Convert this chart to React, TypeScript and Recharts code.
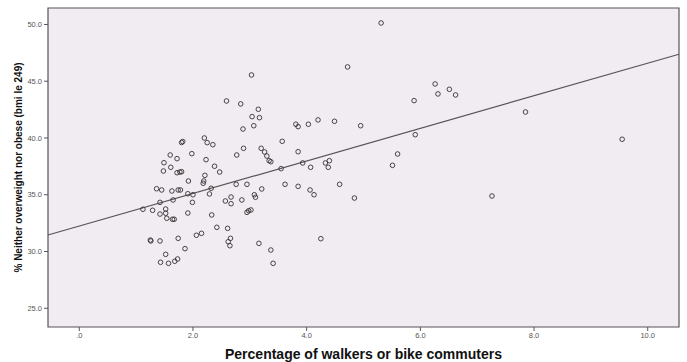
import React from 'react';
import {
  ScatterChart,
  Scatter,
  XAxis,
  YAxis,
  CartesianGrid,
  ReferenceLine,
  ReferenceArea,
} from 'recharts';

// % walkers or bike commuters (x) for each county
const walkersPct = [
  2.59, 2.84, 3.15, 3.04, 3.17, 3.07, 2.88, 3.81, 3.85, 1.82,
  1.80, 2.20, 2.25, 2.35, 2.89, 3.20, 3.26, 3.30, 3.34, 3.37,
  3.57, 3.85, 1.60, 1.98, 1.72, 2.77, 2.23, 1.49, 1.61, 2.38,
  1.48, 1.72, 1.77, 1.80, 2.47, 2.21, 3.55, 1.92, 2.19, 2.18,
  1.36, 1.45, 1.63, 1.74, 1.78, 2.32, 2.29, 2.76, 2.95, 3.21,
  3.62, 3.85, 1.91, 2.00, 1.42, 1.65, 1.99, 1.12, 1.29, 1.42,
  1.52, 1.52, 1.54, 1.64, 1.67, 1.91, 2.33, 2.57, 2.67, 2.67,
  2.86, 3.08, 3.10, 2.95, 2.98, 3.02, 1.26, 1.25, 1.42, 1.74,
  1.86, 2.06, 2.15, 2.42, 2.61, 2.66, 2.62, 2.65, 3.16, 3.37,
  3.41, 1.52, 1.43, 1.57, 1.68, 1.73, 3.03, 5.31, 4.72, 6.26,
  6.31, 6.51, 6.62, 5.89, 4.03, 4.20, 4.49, 4.95, 3.93, 4.07,
  4.33, 4.40, 4.38, 5.91, 5.60, 5.51, 7.26, 4.06, 4.13, 4.58,
  4.84, 4.25, 7.85, 9.55,
];

// % neither overweight nor obese (y), same order
const healthyPct = [
  43.26, 43.0, 42.53, 41.88, 41.79, 41.08, 40.79, 41.21, 41.0, 39.69,
  39.6, 40.0, 39.59, 39.41, 39.09, 39.09, 38.77, 38.41, 38.0, 37.91,
  39.71, 38.79, 38.5, 38.62, 38.18, 38.5, 38.09, 37.82, 37.42, 37.51,
  37.09, 36.94, 37.0, 37.03, 37.0, 36.71, 37.3, 36.21, 36.21, 36.01,
  35.53, 35.42, 35.33, 35.42, 35.42, 35.57, 35.07, 35.92, 35.92, 35.51,
  35.92, 35.74, 35.09, 35.0, 34.33, 34.54, 34.33, 33.72, 33.63, 33.3,
  33.74, 33.37, 32.93, 32.84, 32.84, 33.39, 33.22, 34.45, 34.8, 34.21,
  34.54, 35.0, 34.78, 33.45, 33.59, 33.66, 30.93, 31.01, 30.93, 31.16,
  30.25, 31.43, 31.6, 32.13, 32.04, 31.16, 30.86, 30.51, 30.72, 30.13,
  28.96, 29.75, 29.05, 28.96, 29.14, 29.34, 45.55, 50.13, 46.26, 44.76,
  43.88, 44.29, 43.79, 43.29, 41.21, 41.59, 41.47, 41.08, 37.8, 37.42,
  37.8, 38.0, 37.42, 40.29, 38.59, 37.59, 34.89, 35.42, 35.0, 35.92,
  34.71, 31.13, 42.29, 39.89,
];

// fit line end points, read at the frame edges
const fitX = [-0.55, 10.55];
const fitY = [31.45, 47.38];

const xTicks = [0, 2, 4, 6, 8, 10];
const yTicks = [25, 30, 35, 40, 45, 50];
const xDomain = [-0.55, 10.55];
const yDomain = [23.35, 51.45];

const points = walkersPct.map((x, i) => ({ x, y: healthyPct[i] }));

const fmtX = (v: number) => (v === 0 ? '.0' : v.toFixed(1));
const fmtY = (v: number) => v.toFixed(1);

const Dot = (p: any) => (
  <circle cx={p.cx} cy={p.cy} r={2.3} fill="none" stroke="#333" strokeWidth={0.9} />
);

export default function App() {
  return (
    <div
      style={{
        position: 'absolute',
        left: 0,
        top: 0,
        width: 687,
        height: 362,
        background: '#fff',
        fontFamily: '"Liberation Sans", Arial, sans-serif',
      }}
    >
      <ScatterChart width={687} height={362} margin={{ top: 8, right: 8, left: 0, bottom: 0 }}>
        <CartesianGrid fill="#F1ECF1" horizontal={false} vertical={false} />
        <XAxis
          type="number"
          dataKey="x"
          domain={xDomain}
          allowDataOverflow
          ticks={xTicks}
          tickFormatter={fmtX}
          axisLine={false}
          tickSize={4}
          tickLine={{ stroke: '#555' }}
          tick={{ fontSize: 7.5, fill: '#555' }}
          height={35}
          label={{
            value: 'Percentage of walkers or bike commuters',
            position: 'insideBottom',
            offset: 3,
            style: { fontSize: 14, fontWeight: 'bold', fill: '#111' },
          }}
        />
        <YAxis
          type="number"
          dataKey="y"
          domain={yDomain}
          allowDataOverflow
          ticks={yTicks}
          tickFormatter={fmtY}
          axisLine={false}
          tickSize={4}
          tickLine={{ stroke: '#555' }}
          tick={{ fontSize: 7.5, fill: '#555' }}
          width={48}
          label={{
            value: '% Neither overweight nor obese (bmi le 249)',
            angle: -90,
            position: 'insideLeft',
            offset: 18,
            style: { fontSize: 10, fontWeight: 'bold', fill: '#111', textAnchor: 'middle' },
          }}
        />
        <ReferenceArea
          x1={xDomain[0]}
          x2={xDomain[1]}
          y1={yDomain[0]}
          y2={yDomain[1]}
          fill="none"
          fillOpacity={0}
          stroke="#555"
          strokeWidth={1.2}
        />
        <ReferenceLine
          segment={[
            { x: fitX[0], y: fitY[0] },
            { x: fitX[1], y: fitY[1] },
          ]}
          stroke="#555"
          strokeWidth={1.2}
        />
        <Scatter data={points} shape={Dot} isAnimationActive={false} />
      </ScatterChart>
    </div>
  );
}
